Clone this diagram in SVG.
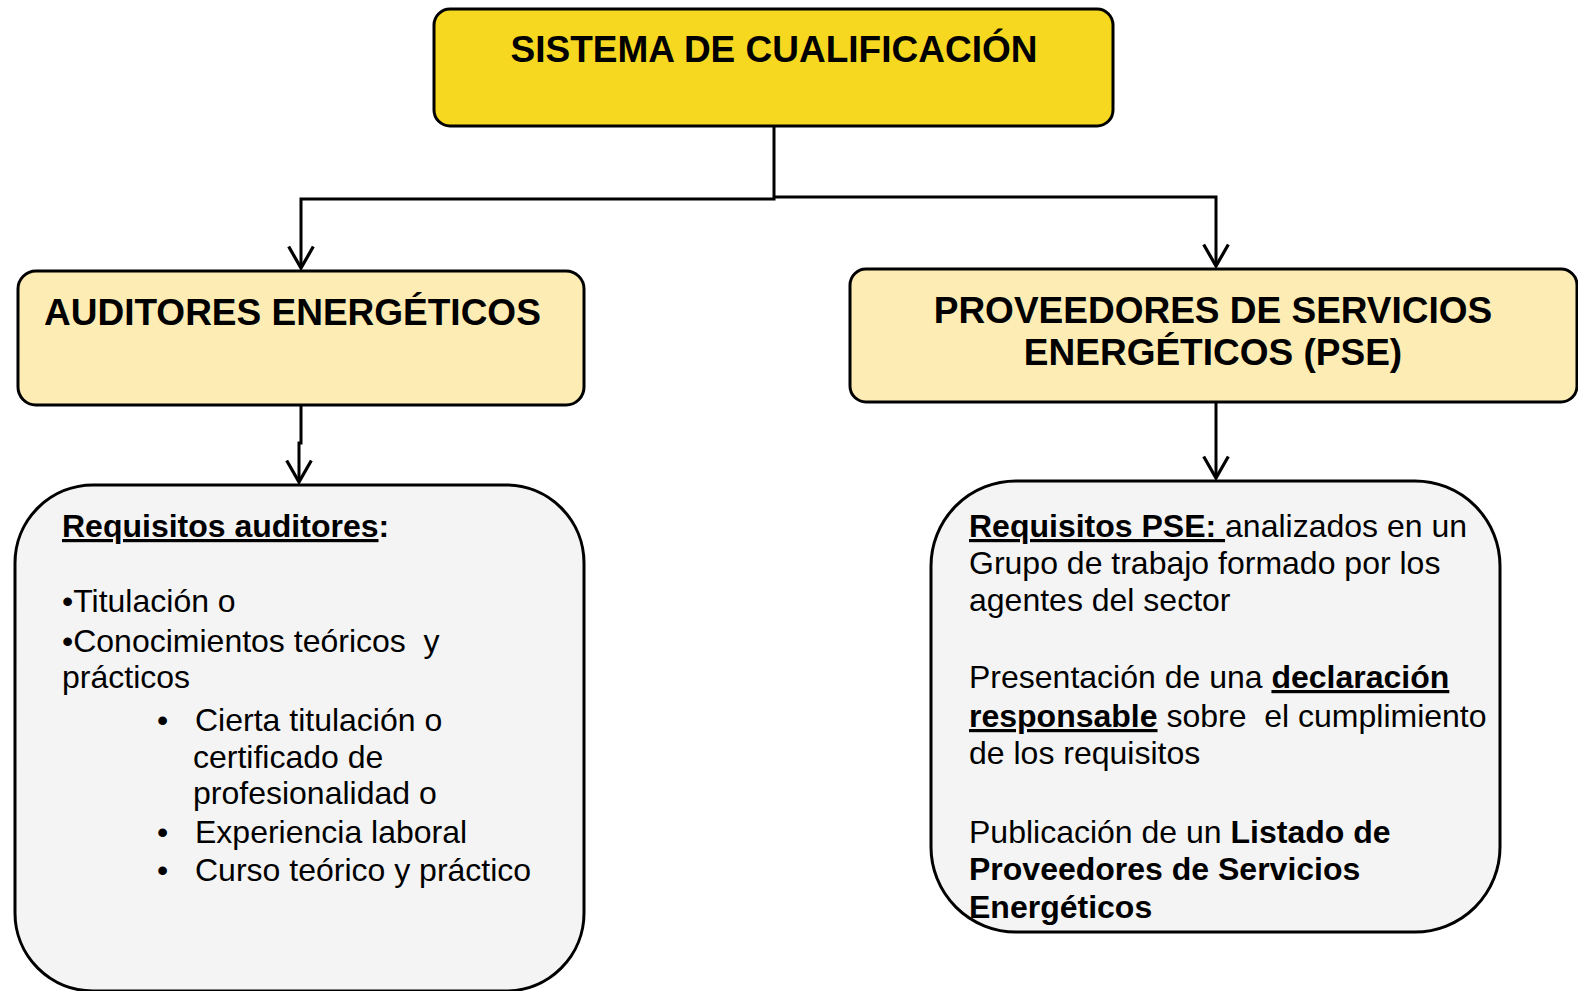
<svg xmlns="http://www.w3.org/2000/svg" width="1578" height="991" viewBox="0 0 1578 991">
<style>
  .box { stroke: #000; stroke-width: 3; }
  .top { fill: #F7D820; }
  .hdr { fill: #FDEDB4; }
  .body { fill: #F4F4F4; }
  .title { font-family: "Liberation Sans", Arial, sans-serif; font-weight: bold; font-size: 37px; fill: #000; }
  .t { font-family: "Liberation Sans", Arial, sans-serif; font-size: 32px; fill: #000; }
  .b { font-weight: bold; }
  .u { text-decoration: underline; }
  .conn { fill: none; stroke: #000; stroke-width: 3; }
</style>
<defs>
  <marker id="arr" markerUnits="userSpaceOnUse" markerWidth="30" markerHeight="30" viewBox="-2 -14 26 28" refX="20" refY="0" orient="auto" overflow="visible">
    <path d="M0,-11.5 L20,0 L0,11.5" fill="none" stroke="#000" stroke-width="3"/>
  </marker>
</defs>
<rect width="1578" height="991" fill="#FFFFFF"/>

<g id="connectors">
  <path class="conn" d="M774,126 V199 H301 V268" marker-end="url(#arr)"/>
  <path class="conn" d="M774,197 H1216 V266" marker-end="url(#arr)"/>
  <path class="conn" d="M301,405 V443 H299 V482" marker-end="url(#arr)"/>
  <path class="conn" d="M1216,403 V478" marker-end="url(#arr)"/>
</g>

<g id="sistema">
  <rect class="box top" x="434" y="9" width="679" height="117" rx="16"/>
  <text class="title" x="774" y="62" text-anchor="middle">SISTEMA DE CUALIFICACIÓN</text>
</g>

<g id="auditores">
  <rect class="box hdr" x="18" y="271" width="566" height="134" rx="18"/>
  <text class="title" x="44" y="325">AUDITORES ENERGÉTICOS</text>
</g>

<g id="proveedores">
  <rect class="box hdr" x="850" y="269" width="727" height="133" rx="16"/>
  <text class="title" x="1213" y="323" text-anchor="middle">PROVEEDORES DE SERVICIOS</text>
  <text class="title" x="1213" y="365" text-anchor="middle">ENERGÉTICOS (PSE)</text>
</g>

<g id="requisitos-auditores">
  <rect class="box body" x="15" y="485" width="569" height="506" rx="78"/>
  <text class="t" x="62" y="537"><tspan class="b u">Requisitos auditores</tspan><tspan class="b">:</tspan></text>
  <text class="t" x="62" y="612">•Titulación o</text>
  <text class="t" x="62" y="652" xml:space="preserve">•Conocimientos teóricos  y</text>
  <text class="t" x="62" y="688">prácticos</text>
  <text class="t" x="157" y="731">•</text>
  <text class="t" x="195" y="731">Cierta titulación o</text>
  <text class="t" x="193" y="768">certificado de</text>
  <text class="t" x="193" y="804">profesionalidad o</text>
  <text class="t" x="157" y="843">•</text>
  <text class="t" x="195" y="843">Experiencia laboral</text>
  <text class="t" x="157" y="881">•</text>
  <text class="t" x="195" y="881">Curso teórico y práctico</text>
</g>

<g id="requisitos-pse">
  <rect class="box body" x="931" y="481" width="569" height="451" rx="85"/>
  <text class="t" x="969" y="537" xml:space="preserve"><tspan class="b u">Requisitos PSE: </tspan>analizados en un</text>
  <text class="t" x="969" y="574">Grupo de trabajo formado por los</text>
  <text class="t" x="969" y="611">agentes del sector</text>
  <text class="t" x="969" y="688" xml:space="preserve">Presentación de una <tspan class="b u">declaración</tspan></text>
  <text class="t" x="969" y="727" xml:space="preserve"><tspan class="b u">responsable</tspan> sobre  el cumplimiento</text>
  <text class="t" x="969" y="764">de los requisitos</text>
  <text class="t" x="969" y="843" xml:space="preserve">Publicación de un <tspan class="b">Listado de</tspan></text>
  <text class="t b" x="969" y="880">Proveedores de Servicios</text>
  <text class="t b" x="969" y="918">Energéticos</text>
</g>
</svg>
